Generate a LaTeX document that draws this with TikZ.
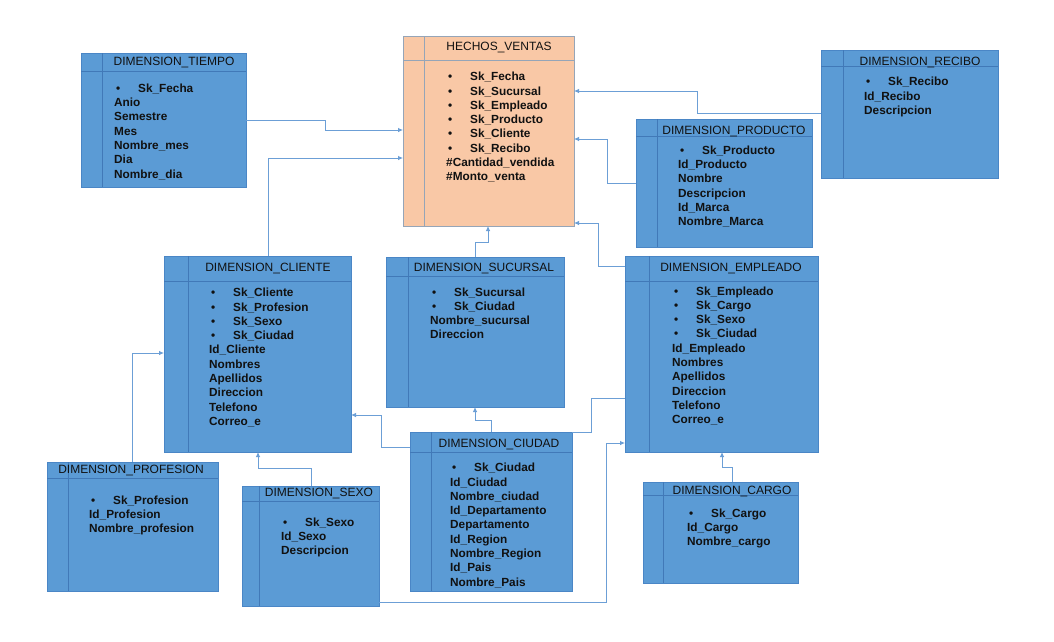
\documentclass[tikz,border=0pt]{standalone}
\usepackage{fontspec}
\setmainfont{Liberation Sans}
\usetikzlibrary{arrows.meta}
\definecolor{boxblue}{HTML}{5B9BD5}
\definecolor{boxedge}{HTML}{4A86C6}
\definecolor{boxinner}{HTML}{4179B8}
\definecolor{peach}{HTML}{F9C8A6}
\definecolor{peachedge}{HTML}{95A5B8}
\definecolor{connc}{HTML}{6C9FD6}
\definecolor{txt}{HTML}{111111}
\tikzset{
 dimbox/.style={draw=boxedge, fill=boxblue, line width=0.9pt, inner sep=0pt, outer sep=0pt},
 factbox/.style={draw=peachedge, fill=peach, line width=0.9pt, inner sep=0pt, outer sep=0pt},
 dimboxline/.style={draw=boxinner, line width=0.7pt},
 factboxline/.style={draw=peachedge, line width=0.7pt},
 hdr/.style={font=\fontsize{12}{14}\selectfont, text=txt, inner sep=0pt, anchor=base},
 flds/.style={font=\bfseries\fontsize{11.8}{14.3}\selectfont, text=txt, align=left, inner sep=0pt, anchor=base west},
 conn/.style={draw=connc, line width=0.8pt, -{Latex[length=5pt,width=4.5pt]}},
 plainconn/.style={draw=connc, line width=0.8pt},
}
\newcommand\bul[1]{\hspace*{2pt}\makebox[22pt][l]{•}#1}
% name, style, x0, y0, x1, y1, header line y, vertical line x
\newcommand\tbox[8]{%
  \node[#2, anchor=north west, minimum width={(#5-#3)*1pt}, minimum height={(#6-#4)*1pt}] (#1) at (#3,#4) {};
  \draw[#2line] (#1.west |- 0,#7) -- (#1.east |- 0,#7);
  \draw[#2line] (#1.north -| #8,0) -- (#1.south -| #8,0);
}
\begin{document}
\begin{tikzpicture}[x=1pt,y=-1pt]
\useasboundingbox (0,0) rectangle (1054,641);
\fill[white] (0,0) rectangle (1054,641);

% ---------- boxes ----------
\tbox{hv}{factbox}{403}{36}{574}{226}{60}{424}
\tbox{tie}{dimbox}{81}{53}{246}{187}{71}{102}
\tbox{rec}{dimbox}{821}{50}{998}{178}{66}{843}
\tbox{pro}{dimbox}{636}{119}{812}{247}{136}{657}
\tbox{cli}{dimbox}{164}{256}{351}{452}{281}{188}
\tbox{suc}{dimbox}{386}{257}{564}{407}{276}{408}
\tbox{emp}{dimbox}{625}{256}{818}{452}{281}{649}
\tbox{prf}{dimbox}{47}{462}{218}{591}{478}{68}
\tbox{sex}{dimbox}{242}{486}{379}{606}{501}{259}
\tbox{ciu}{dimbox}{410}{432}{572}{591}{452}{431}
\tbox{car}{dimbox}{643}{482}{798}{583}{495}{663}

% ---------- headers ----------
\node[hdr] (hv-h) at (499,50.7) {HECHOS\_VENTAS};
\node[hdr] (tie-h) at (174,65) {DIMENSION\_TIEMPO};
\node[hdr] (rec-h) at (920,65) {DIMENSION\_RECIBO};
\node[hdr] (pro-h) at (734,134.5) {DIMENSION\_PRODUCTO};
\node[hdr] (cli-h) at (268,271.7) {DIMENSION\_CLIENTE};
\node[hdr] (suc-h) at (484,271.7) {DIMENSION\_SUCURSAL};
\node[hdr] (emp-h) at (731,271.7) {DIMENSION\_EMPLEADO};
\node[hdr] (prf-h) at (131,473.3) {DIMENSION\_PROFESION};
\node[hdr] (sex-h) at (319,496.7) {DIMENSION\_SEXO};
\node[hdr] (ciu-h) at (499,447.7) {DIMENSION\_CIUDAD};
\node[hdr] (car-h) at (732,494) {DIMENSION\_CARGO};

% ---------- fields (anchored at the baseline of the last line) ----------
\node[flds] (hv-f) at (446,80.7+7*14.3) {\bul{Sk\_Fecha}\\\bul{Sk\_Sucursal}\\\bul{Sk\_Empleado}\\\bul{Sk\_Producto}\\\bul{Sk\_Cliente}\\\bul{Sk\_Recibo}\\\#Cantidad\_vendida\\\#Monto\_venta};
\node[flds] (tie-f) at (114,92.3+6*14.3) {\bul{Sk\_Fecha}\\Anio\\Semestre\\Mes\\Nombre\_mes\\Dia\\Nombre\_dia};
\node[flds] (rec-f) at (864,85.7+2*14.3) {\bul{Sk\_Recibo}\\Id\_Recibo\\Descripcion};
\node[flds] (pro-f) at (678,154.3+5*14.3) {\bul{Sk\_Producto}\\Id\_Producto\\Nombre\\Descripcion\\Id\_Marca\\Nombre\_Marca};
\node[flds] (cli-f) at (209,296.7+9*14.3) {\bul{Sk\_Cliente}\\\bul{Sk\_Profesion}\\\bul{Sk\_Sexo}\\\bul{Sk\_Ciudad}\\Id\_Cliente\\Nombres\\Apellidos\\Direccion\\Telefono\\Correo\_e};
\node[flds] (suc-f) at (430,296+3*14.3) {\bul{Sk\_Sucursal}\\\bul{Sk\_Ciudad}\\Nombre\_sucursal\\Direccion};
\node[flds] (emp-f) at (672,295+9*14.3) {\bul{Sk\_Empleado}\\\bul{Sk\_Cargo}\\\bul{Sk\_Sexo}\\\bul{Sk\_Ciudad}\\Id\_Empleado\\Nombres\\Apellidos\\Direccion\\Telefono\\Correo\_e};
\node[flds] (prf-f) at (89,504+2*14.3) {\bul{Sk\_Profesion}\\Id\_Profesion\\Nombre\_profesion};
\node[flds] (sex-f) at (281,526+2*14.3) {\bul{Sk\_Sexo}\\Id\_Sexo\\Descripcion};
\node[flds] (ciu-f) at (450,471.7+8*14.3) {\bul{Sk\_Ciudad}\\Id\_Ciudad\\Nombre\_ciudad\\Id\_Departamento\\Departamento\\Id\_Region\\Nombre\_Region\\Id\_Pais\\Nombre\_Pais};
\node[flds] (car-f) at (687,517.3+2*14.3) {\bul{Sk\_Cargo}\\Id\_Cargo\\Nombre\_cargo};

% ---------- connectors ----------
\draw[conn] (tie.east |- 0,120) -- (325,120) |- (hv.west |- 0,130);
\draw[conn] (cli.north -| 268,0) |- (hv.west |- 0,158);
\draw[conn] (suc.north -| 475,0) -- (475,242) -| (hv.south -| 488,0);
\draw[conn] (rec.west |- 0,113) -| (697,91) -- (hv.east |- 0,91);
\draw[conn] (pro.west |- 0,183) -| (607,139) -- (hv.east |- 0,139);
\draw[conn] (emp.west |- 0,266) -| (598,223) -- (hv.east |- 0,223);
\draw[conn] (prf.north -| 132,0) |- (cli.west |- 0,353);
\draw[conn] (sex.north -| 311,0) -- (311,468) -| (cli.south -| 258,0);
\draw[conn] (ciu.west |- 0,447) -| (381,415) -- (cli.east |- 0,415);
\draw[conn] (ciu.north -| 491,0) -- (491,420) -| (suc.south -| 475,0);
\draw[plainconn] (ciu.north east) -- (591,432) |- (emp.west |- 0,398);
\draw[conn] (sex.east |- 0,602) -| (606,443) -- (emp.west |- 0,443);
\draw[conn] (car.north -| 732,0) -- (732,467) -| (emp.south -| 722,0);
\end{tikzpicture}
\end{document}
